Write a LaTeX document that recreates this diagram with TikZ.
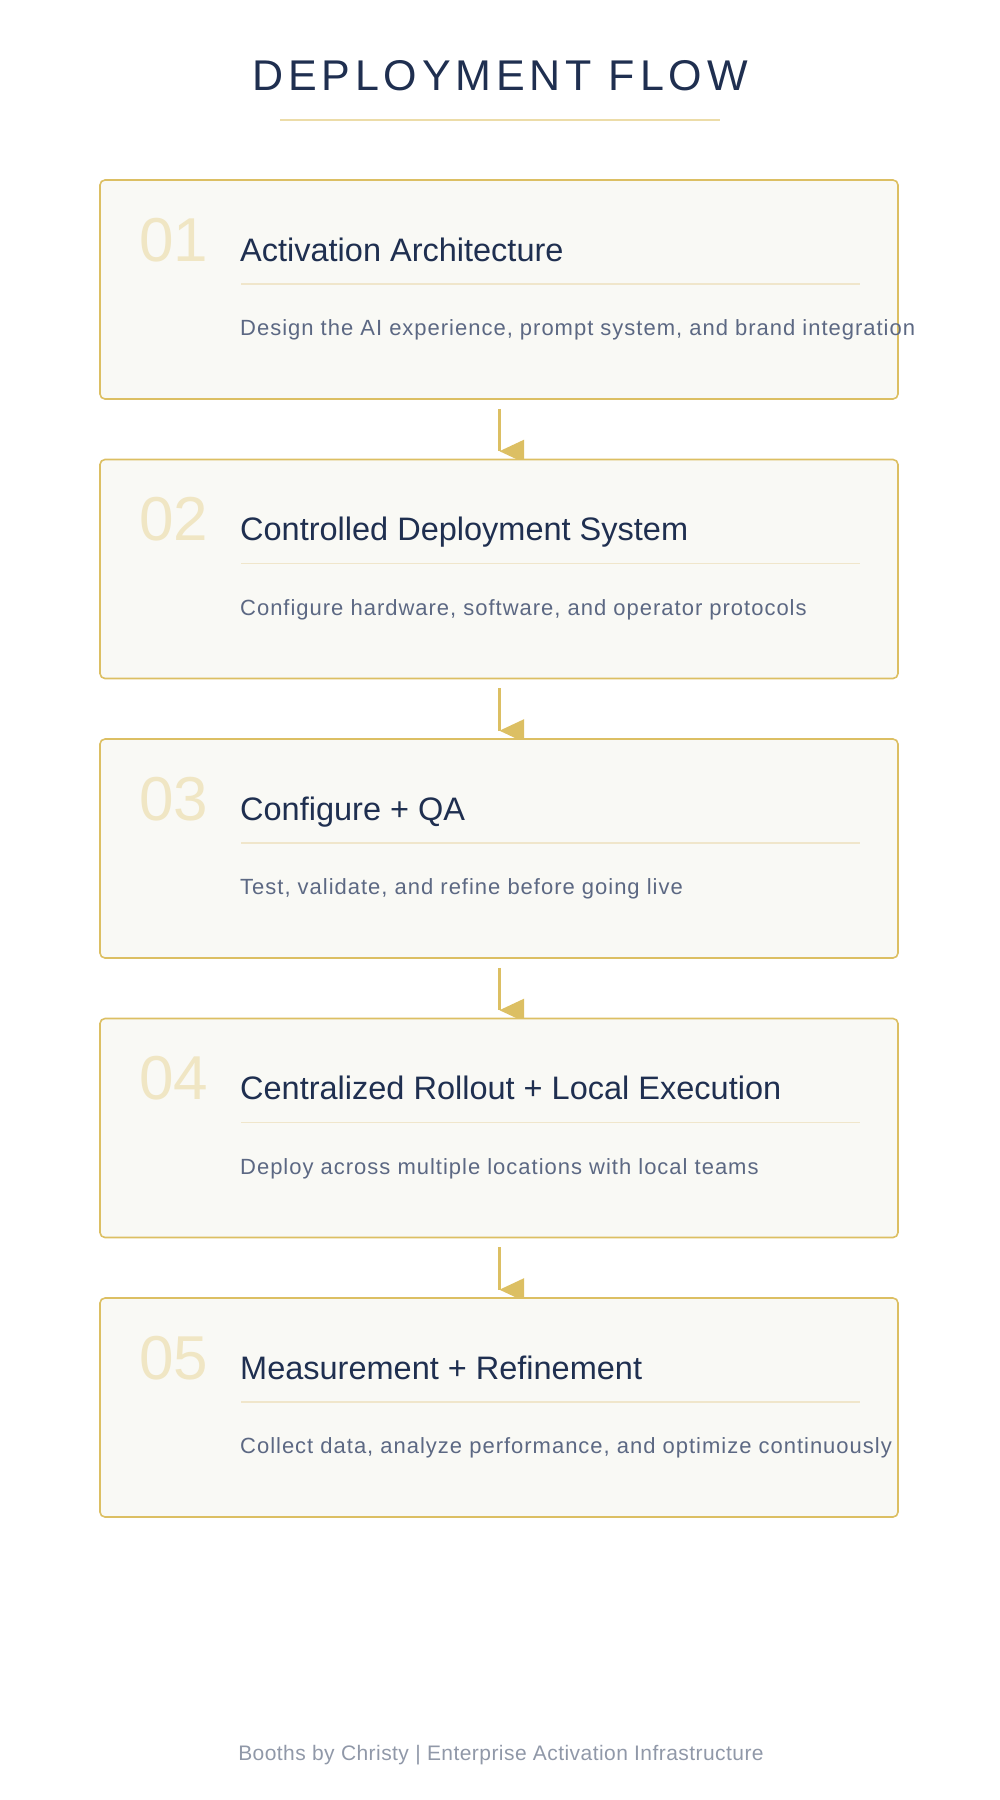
\documentclass[tikz,border=0pt]{standalone}
\usepackage{fontspec}
\setmainfont{Liberation Sans}
\newfontfamily\titlefont[LetterSpace=11.3]{Liberation Sans}
\newfontfamily\descfont[LetterSpace=4.5]{Liberation Sans}
\newfontfamily\footfont[LetterSpace=2.1]{Liberation Sans}
\definecolor{navy}{HTML}{1F2F50}
\definecolor{gold}{HTML}{DCBF63}
\definecolor{paleline}{HTML}{F0E6CB}
\definecolor{numcol}{HTML}{F0E6C4}
\definecolor{desccol}{HTML}{5C6883}
\definecolor{footcol}{HTML}{9098A8}
\definecolor{boxfill}{HTML}{F9F9F5}
\definecolor{ruleline}{HTML}{ECDCA8}
\pgfdeclarelayer{bg}
\pgfsetlayers{bg,main}
\tikzset{
  stepbox/.style={draw=gold, line width=1.6pt, fill=boxfill, rounded corners=5pt,
    minimum width=798pt, minimum height=219pt, inner sep=0pt},
  numtxt/.style={anchor=base west, inner sep=0pt, text=numcol, font=\fontsize{62}{70}\selectfont},
  headtxt/.style={anchor=base west, inner sep=0pt, text=navy, font=\fontsize{32.5}{38}\selectfont},
  desctxt/.style={anchor=base west, inner sep=0pt, text=desccol, font=\fontsize{22}{26}\descfont},
  sepline/.style={draw=paleline, line width=1.6pt},
  conn/.style={draw=gold, line width=2.2pt},
  tip/.style={fill=gold},
}
\begin{document}
\begin{tikzpicture}[x=1pt,y=-1pt]
\useasboundingbox (0,0) rectangle (1000,1800);
\node[anchor=base west, inner sep=0pt, text=navy, font=\fontsize{43}{50}\titlefont] (title) at (252,90) {DEPLOYMENT FLOW};
\draw[draw=ruleline, line width=2.6pt] (280,120) coordinate (ul1) -- (720,120) coordinate (ul2);
\foreach \i/\num/\head/\desc in {
  0/01/Activation Architecture/{Design the AI experience, prompt system, and brand integration},
  1/02/Controlled Deployment System/{Configure hardware, software, and operator protocols},
  2/03/Configure + QA/{Test, validate, and refine before going live},
  3/04/Centralized Rollout + Local Execution/{Deploy across multiple locations with local teams},
  4/05/Measurement + Refinement/{Collect data, analyze performance, and optimize continuously}} {
  \pgfmathsetmacro{\top}{180+279.5*\i}
  \node[stepbox] (box\i) at (499,\top+109.5) {};
  \node[numtxt] (num\i) at (139,\top+81) {\num};
  \node[headtxt] (head\i) at (240,\top+81) {\head};
  \draw[sepline] (241,\top+104) coordinate (sa\i) -- (860,\top+104) coordinate (sb\i);
  \node[desctxt] (desc\i) at (240,\top+155.7) {\desc};
}
\begin{pgfonlayer}{bg}
\foreach \i [evaluate=\i as \j using int(\i+1)] in {0,1,2,3} {
  \draw[conn] ([xshift=0.5pt,yshift=-9pt]box\i.south) coordinate (s\i) -- ([xshift=0.5pt,yshift=7.5pt]box\j.north) coordinate (e\i);
  \fill[tip] (e\i) -- ++(24.5,-11.5) -- ++(0,23) -- cycle;
}
\end{pgfonlayer}
\node[anchor=base, inner sep=0pt, text=footcol, font=\fontsize{21}{25}\footfont] (foot) at (501,1760) {Booths by Christy | Enterprise Activation Infrastructure};
\end{tikzpicture}
\end{document}
